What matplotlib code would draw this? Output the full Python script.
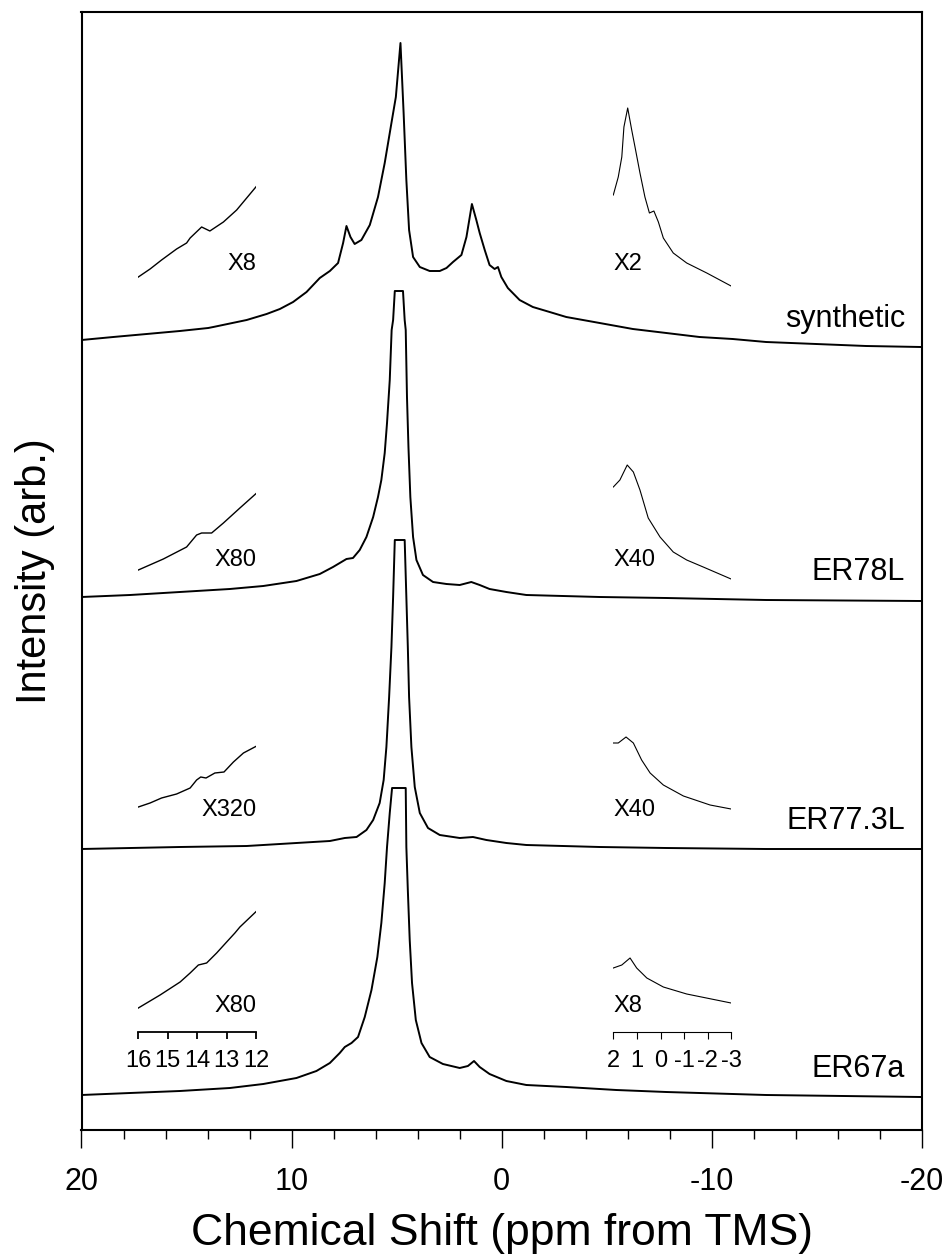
import matplotlib.pyplot as plt
from matplotlib.ticker import MultipleLocator

plt.rcParams['font.family'] = ['Liberation Sans', 'DejaVu Sans']
plt.rcParams['axes.unicode_minus'] = False

# traces, top to bottom, with the baseline each one is stacked on
names = ["synthetic", "ER78L", "ER77.3L", "ER67a"]
offsets = [7.83, 5.30, 2.81, 0.33]
lo_gain = ["X8", "X80", "X320", "X80"]
hi_gain = ["X2", "X40", "X40", "X8"]

# full spectra (ppm, intensity above baseline)
syn_ppm = [20.0, 18.49, 16.90, 15.32, 13.97, 13.73, 12.14, 11.19, 10.56, 9.93, 9.29, 8.66,
           8.18, 7.79, 7.55, 7.39, 7.20, 7.00, 6.68, 6.28, 5.89, 5.57, 5.25, 5.04, 4.82,
           4.67, 4.54, 4.41, 4.22, 3.90, 3.43, 2.95, 2.63, 2.32, 1.92, 1.68, 1.42, 1.21,
           1.05, 0.81, 0.58, 0.34, 0.18, 0.02, -0.29, -0.85, -1.48, -2.28, -3.07, -4.66,
           -6.24, -7.83, -9.41, -10.99, -12.58, -14.96, -17.34, -19.95]
syn_int = [0.07, 0.10, 0.13, 0.16, 0.19, 0.20, 0.27, 0.33, 0.38, 0.45, 0.55, 0.69,
           0.76, 0.84, 1.04, 1.21, 1.10, 1.03, 1.07, 1.22, 1.50, 1.84, 2.24, 2.50, 3.04,
           2.34, 1.67, 1.17, 0.90, 0.80, 0.76, 0.76, 0.79, 0.85, 0.92, 1.10, 1.43, 1.27,
           1.14, 0.97, 0.82, 0.78, 0.80, 0.70, 0.59, 0.47, 0.40, 0.35, 0.30, 0.24,
           0.18, 0.14, 0.10, 0.08, 0.05, 0.03, 0.01, 0.0]

er78_ppm = [20.0, 17.69, 15.32, 12.94, 11.35, 9.77, 8.66, 8.03, 7.63, 7.39, 7.08, 6.76,
            6.44, 6.12, 5.89, 5.73, 5.57, 5.46, 5.33, 5.24, 5.17, 5.09, 4.70, 4.62, 4.57,
            4.51, 4.44, 4.35, 4.22, 4.06, 3.75, 3.27, 2.63, 2.00, 1.45, 1.05, 0.58, -0.22,
            -1.17, -4.66, -7.83, -12.58, -19.95]
er78_int = [0.03, 0.05, 0.08, 0.11, 0.14, 0.19, 0.26, 0.33, 0.38, 0.41, 0.42, 0.50,
            0.63, 0.83, 1.03, 1.20, 1.47, 1.77, 2.20, 2.70, 2.80, 3.09, 3.09, 2.80, 2.70,
            2.03, 1.53, 1.03, 0.63, 0.40, 0.25, 0.18, 0.16, 0.15, 0.18, 0.15, 0.11, 0.08,
            0.05, 0.03, 0.02, 0.0, -0.01]

er773_ppm = [20.0, 15.32, 12.14, 9.77, 8.18, 7.47, 6.91, 6.44, 6.12, 5.81, 5.62, 5.49,
             5.36, 5.25, 5.17, 5.09, 4.62, 4.54, 4.47, 4.41, 4.30, 4.14, 3.90, 3.51, 2.95,
             2.00, 1.37, 0.73, -0.22, -1.17, -4.66, -7.83, -12.58, -19.95]
er773_int = [0.0, 0.02, 0.03, 0.06, 0.08, 0.11, 0.12, 0.19, 0.29, 0.46, 0.69, 1.02,
             1.52, 2.02, 2.52, 3.09, 3.09, 2.52, 2.02, 1.52, 1.02, 0.62, 0.36, 0.21, 0.14,
             0.11, 0.12, 0.09, 0.06, 0.04, 0.02, 0.01, 0.0, 0.0]

er67_ppm = [20.0, 17.69, 15.32, 12.94, 11.35, 9.77, 8.82, 8.18, 7.71, 7.47, 7.15, 6.84,
            6.52, 6.20, 5.92, 5.73, 5.57, 5.46, 5.33, 5.22, 4.57, 4.54, 4.47, 4.38, 4.27,
            4.09, 3.82, 3.43, 2.80, 2.00, 1.61, 1.32, 1.05, 0.58, -0.22, -1.17, -3.07,
            -5.45, -7.83, -12.58, -19.95]
er67_int = [0.02, 0.04, 0.06, 0.09, 0.13, 0.19, 0.26, 0.34, 0.44, 0.50, 0.54, 0.60,
            0.80, 1.07, 1.40, 1.74, 2.14, 2.50, 2.84, 3.09, 3.09, 2.50, 2.07, 1.57, 1.14,
            0.77, 0.54, 0.40, 0.33, 0.29, 0.31, 0.36, 0.30, 0.23, 0.16, 0.12, 0.10,
            0.07, 0.05, 0.02, 0.0]

# expanded 16..12 ppm region
syn_lo_ppm = [16.0, 15.60, 15.21, 14.70, 14.36, 14.24, 13.85, 13.57, 13.11, 12.66, 12.32, 11.98]
syn_lo_int = [0.70, 0.78, 0.87, 0.98, 1.04, 1.09, 1.20, 1.16, 1.25, 1.37, 1.49, 1.61]
er78_lo_ppm = [16.0, 15.15, 14.36, 14.02, 13.85, 13.51, 13.11, 12.55, 11.98]
er78_lo_int = [0.30, 0.41, 0.53, 0.65, 0.67, 0.67, 0.77, 0.92, 1.07]
er773_lo_ppm = [16.0, 15.60, 15.21, 14.70, 14.24, 14.02, 13.88, 13.70, 13.40, 13.09, 12.77,
                12.43, 11.98]
er773_lo_int = [0.42, 0.46, 0.51, 0.55, 0.61, 0.69, 0.72, 0.71, 0.76, 0.77, 0.87, 0.96, 1.03]
er67_lo_ppm = [16.0, 15.26, 14.58, 14.24, 13.96, 13.68, 13.34, 13.00, 12.72, 12.55, 11.98]
er67_lo_int = [0.89, 1.02, 1.15, 1.24, 1.32, 1.34, 1.44, 1.55, 1.64, 1.70, 1.86]

# expanded 2..-3 ppm region
syn_hi_ppm = [2.0, 1.79, 1.64, 1.55, 1.39, 1.22, 1.08, 0.87, 0.66, 0.47, 0.28, 0.09, -0.12,
              -0.54, -1.11, -1.96, -2.99]
syn_hi_int = [1.52, 1.70, 1.90, 2.20, 2.39, 2.17, 2.00, 1.74, 1.50, 1.34, 1.36, 1.25, 1.09,
              0.94, 0.84, 0.74, 0.61]
er78_hi_ppm = [2.0, 1.72, 1.41, 1.15, 0.87, 0.52, 0.02, -0.54, -1.11, -1.81, -2.99]
er78_hi_int = [1.13, 1.20, 1.35, 1.28, 1.10, 0.82, 0.63, 0.48, 0.40, 0.33, 0.21]
er773_hi_ppm = [2.0, 1.79, 1.46, 1.15, 0.80, 0.44, -0.12, -0.97, -2.10, -2.99]
er773_hi_int = [1.06, 1.06, 1.12, 1.06, 0.89, 0.76, 0.64, 0.53, 0.44, 0.40]
er67_hi_ppm = [2.0, 1.64, 1.29, 1.01, 0.58, -0.12, -1.11, -2.99]
er67_hi_int = [1.29, 1.32, 1.39, 1.29, 1.19, 1.10, 1.03, 0.94]

main = [(syn_ppm, syn_int), (er78_ppm, er78_int), (er773_ppm, er773_int), (er67_ppm, er67_int)]
lo = [(syn_lo_ppm, syn_lo_int), (er78_lo_ppm, er78_lo_int), (er773_lo_ppm, er773_lo_int),
      (er67_lo_ppm, er67_lo_int)]
hi = [(syn_hi_ppm, syn_hi_int), (er78_hi_ppm, er78_hi_int), (er773_hi_ppm, er773_hi_int),
      (er67_hi_ppm, er67_hi_int)]

lo_ticks = [16, 15, 14, 13, 12]
hi_ticks = [2, 1, 0, -1, -2, -3]

# layout
W, H = 949, 1257
YMAX = 11.18
gain_dy = [0.83, 0.40, 0.39, 0.91]
name_dy = 0.28


def rect(x0, x1, y0, y1):
    # pixel box -> figure fraction
    return [x0 / W, (H - y1) / H, (x1 - x0) / W, (y1 - y0) / H]


fig = plt.figure(figsize=(W / 100, H / 100), dpi=100)
ax = fig.add_axes(rect(81.5, 922, 12, 1130))
ax_lo = fig.add_axes(rect(138.3, 256.1, 12, 1130))
ax_hi = fig.add_axes(rect(613.3, 731.3, 12, 1130))

for (x, y), off in zip(main, offsets):
    ax.plot(x, [v + off for v in y], color="black", lw=1.4)
for (x, y), off in zip(lo, offsets):
    ax_lo.plot(x, [v + off for v in y], color="black", lw=1.0)
for (x, y), off in zip(hi, offsets):
    ax_hi.plot(x, [v + off for v in y], color="black", lw=0.8)

for name, g1, g2, off, dy in zip(names, lo_gain, hi_gain, offsets, gain_dy):
    ax.text(-19.2, off + name_dy, name, ha="right", va="center", fontsize=22)
    ax_lo.text(12, off + dy, g1, ha="right", va="center", fontsize=17)
    ax_hi.text(2, off + dy, g2, ha="left", va="center", fontsize=17)

ax.set_xlim(20, -20)
ax.set_ylim(0, YMAX)
ax_lo.set_xlim(16, 12)
ax_hi.set_xlim(2, -3)
for a in (ax_lo, ax_hi):
    a.set_ylim(0, YMAX)
    a.axis("off")
    a.patch.set_visible(False)

ax.xaxis.set_major_locator(MultipleLocator(10))
ax.xaxis.set_minor_locator(MultipleLocator(2))
ax.tick_params(axis="x", which="major", length=13, width=1.0, labelsize=22, pad=14)
ax.tick_params(axis="x", which="minor", length=6.5, width=1.0)
ax.tick_params(axis="y", left=False, labelleft=False)
for s in ax.spines.values():
    s.set_linewidth(1.5)
ax.set_xlabel("Chemical Shift (ppm from TMS)", fontsize=32, labelpad=11)
ax.set_ylabel("Intensity (arb.)", fontsize=30, labelpad=19)

# scale bars under the bottom expansions
for r, lim, ticks, lw in [((138.3, 256.1), (16, 12), lo_ticks, 1.3),
                          ((613.3, 731.3), (2, -3), hi_ticks, 0.8)]:
    sb = fig.add_axes(rect(r[0], r[1], 1030.5, 1031.5))
    sb.set_xlim(*lim)
    sb.set_xticks(ticks)
    sb.set_xticklabels([str(t) for t in ticks])
    sb.set_yticks([])
    sb.patch.set_visible(False)
    for k in ("top", "left", "right"):
        sb.spines[k].set_visible(False)
    sb.spines["bottom"].set_linewidth(lw)
    sb.tick_params(axis="x", length=5, width=lw, labelsize=17, pad=8)

fig.savefig("out.png", dpi=100)
